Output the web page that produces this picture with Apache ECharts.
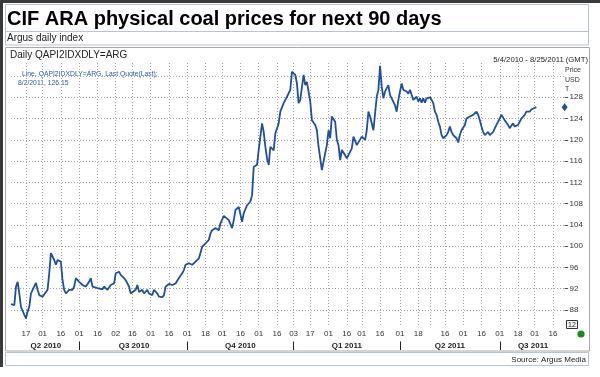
<!DOCTYPE html>
<html><head><meta charset="utf-8">
<script src="https://cdn.jsdelivr.net/npm/echarts@6/dist/echarts.min.js"></script>
<style>html,body{margin:0;padding:0;background:#fff}#c{width:600px;height:377px}</style>
</head><body><div id="c"></div>
<script>
const FONT = '"Liberation Sans", Arial, sans-serif';

// ---- axis range (trading days, UK holidays removed) ----
const startDate = '2010-05-04';
const endDate = '2011-08-25';
const holidays = ['2010-05-31','2010-08-30','2010-12-27','2010-12-28','2011-04-22','2011-04-25','2011-04-29','2011-05-02','2011-05-30'];

// ---- series: CIF ARA daily index (USD/t) ----
const dates = [
'2010-05-04','2010-05-06','2010-05-07','2010-05-10','2010-05-11','2010-05-12','2010-05-14','2010-05-17','2010-05-18','2010-05-19',
'2010-05-20','2010-05-21','2010-05-25','2010-05-26','2010-05-27','2010-06-01','2010-06-02','2010-06-04','2010-06-07','2010-06-08',
'2010-06-09','2010-06-10','2010-06-11','2010-06-14','2010-06-16','2010-06-17','2010-06-18','2010-06-21','2010-06-23','2010-06-25',
'2010-06-28','2010-06-29','2010-07-01','2010-07-05','2010-07-07','2010-07-09','2010-07-12','2010-07-13','2010-07-14','2010-07-16',
'2010-07-19','2010-07-21','2010-07-22','2010-07-26','2010-07-28','2010-07-30','2010-08-02','2010-08-04','2010-08-05','2010-08-09',
'2010-08-10','2010-08-12','2010-08-13','2010-08-16','2010-08-18','2010-08-19','2010-08-20','2010-08-24','2010-08-25','2010-08-27',
'2010-08-31','2010-09-02','2010-09-03','2010-09-07','2010-09-08','2010-09-10','2010-09-13','2010-09-14','2010-09-16','2010-09-20',
'2010-09-22','2010-09-24','2010-09-28','2010-09-29','2010-09-30','2010-10-04','2010-10-06','2010-10-08','2010-10-12','2010-10-13',
'2010-10-14','2010-10-18','2010-10-20','2010-10-21','2010-10-22','2010-10-25','2010-10-26','2010-10-28','2010-10-29','2010-11-02',
'2010-11-03','2010-11-05','2010-11-09','2010-11-10','2010-11-11','2010-11-15','2010-11-17','2010-11-18','2010-11-19','2010-11-22',
'2010-11-24','2010-11-25','2010-11-26','2010-11-30','2010-12-01','2010-12-03','2010-12-06','2010-12-07','2010-12-08','2010-12-09',
'2010-12-10','2010-12-14','2010-12-15','2010-12-17','2010-12-20','2010-12-22','2010-12-24','2010-12-30','2010-12-31','2011-01-04',
'2011-01-05','2011-01-06','2011-01-07','2011-01-11','2011-01-12','2011-01-13','2011-01-17','2011-01-18','2011-01-20','2011-01-21',
'2011-01-24','2011-01-26','2011-01-28','2011-01-31','2011-02-01','2011-02-02','2011-02-03','2011-02-07','2011-02-08','2011-02-09',
'2011-02-10','2011-02-11','2011-02-15','2011-02-16','2011-02-17','2011-02-21','2011-02-22','2011-02-24','2011-02-25','2011-03-01',
'2011-03-03','2011-03-04','2011-03-07','2011-03-08','2011-03-09','2011-03-10','2011-03-11','2011-03-14','2011-03-15','2011-03-16',
'2011-03-17','2011-03-18','2011-03-21','2011-03-23','2011-03-24','2011-03-25','2011-03-29','2011-03-30','2011-03-31','2011-04-01',
'2011-04-04','2011-04-05','2011-04-07','2011-04-08','2011-04-11','2011-04-12','2011-04-13','2011-04-14','2011-04-15','2011-04-18',
'2011-04-19','2011-04-20','2011-04-21','2011-04-26','2011-04-27','2011-05-03','2011-05-04','2011-05-05','2011-05-06','2011-05-09',
'2011-05-10','2011-05-11','2011-05-12','2011-05-13','2011-05-16','2011-05-17','2011-05-18','2011-05-19','2011-05-20','2011-05-23',
'2011-05-25','2011-05-26','2011-05-27','2011-05-31','2011-06-01','2011-06-02','2011-06-03','2011-06-07','2011-06-08','2011-06-09',
'2011-06-13','2011-06-14','2011-06-15','2011-06-16','2011-06-17','2011-06-20','2011-06-21','2011-06-22','2011-06-23','2011-06-24',
'2011-06-27','2011-06-29','2011-06-30','2011-07-04','2011-07-05','2011-07-06','2011-07-08','2011-07-11','2011-07-12','2011-07-13',
'2011-07-14','2011-07-18','2011-07-19','2011-07-20','2011-07-22','2011-07-25','2011-07-27','2011-07-28','2011-07-29','2011-08-02'
];
const prices = [
89.1,88.9,92.4,93.3,91.1,88.6,87.1,86.4,87.7,88.6,
91.1,91.8,93.1,91.8,90.8,90.5,90.2,91.8,94.9,98.7,
99.0,97.4,96.5,97.4,97.1,93.6,91.8,91.1,91.8,91.8,
92.4,94.0,93.3,92.7,92.4,93.3,94.0,92.4,92.4,92.1,
92.4,91.9,92.4,91.8,92.7,93.0,94.9,95.2,94.6,94.0,
93.6,92.4,91.1,91.4,91.8,92.7,91.4,91.8,91.1,91.8,
91.1,90.8,91.8,91.1,90.5,90.4,90.8,92.4,92.9,92.7,
93.0,94.0,94.9,95.5,96.5,96.8,96.5,97.1,97.7,98.0,
99.9,100.5,101.2,102.4,103.0,102.7,103.4,103.0,104.3,105.7,
105.5,104.9,103.4,104.9,106.8,107.4,104.6,106.2,106.1,107.7,
108.4,109.6,114.9,115.3,118.1,123.1,121.5,118.7,116.5,115.3,
118.7,118.0,121.2,123.1,125.3,126.9,128.1,129.4,132.8,132.2,
130.6,126.9,127.5,132.2,130.3,130.9,127.2,123.7,122.8,121.8,
118.7,114.3,117.5,119.0,121.8,120.3,124.4,123.4,120.0,119.0,
116.2,118.1,117.1,116.5,116.2,118.4,120.6,119.0,119.3,120.6,
120.0,121.8,125.3,124.4,124.7,121.8,121.5,128.1,129.4,133.9,
130.0,127.8,129.1,130.3,128.4,127.8,126.5,125.3,127.5,129.1,
130.6,129.4,129.1,128.7,129.4,129.1,127.5,127.8,128.1,127.2,
127.8,127.0,127.8,127.0,127.8,128.0,127.5,126.9,125.3,124.7,
123.4,122.5,120.9,120.3,120.2,120.9,121.5,122.5,121.5,120.9,
120.3,119.5,120.9,121.8,121.8,122.8,124.0,124.4,124.1,124.7,
125.3,124.7,123.7,122.5,121.5,120.9,120.6,121.5,120.9,120.6,
121.5,122.8,123.4,124.7,124.2,123.7,122.8,122.2,122.5,123.1,
122.5,122.8,123.4,124.0,124.7,125.3,125.3,125.7,125.7,126.15
];

// ---- axis ticks ----
const tickDates = ['2010-05-17','2010-06-01','2010-06-16','2010-07-01','2010-07-16','2010-08-02','2010-08-16','2010-09-01','2010-09-16','2010-10-01','2010-10-18','2010-11-01','2010-11-16','2010-12-01','2010-12-16','2011-01-03','2011-01-17','2011-02-01','2011-02-16','2011-03-01','2011-03-16','2011-04-01','2011-04-18','2011-05-03','2011-05-16','2011-06-01','2011-06-16','2011-07-01','2011-07-18','2011-08-01','2011-08-16'];
const unlabeledTicks = ['2011-05-03'];
const quarterLabels = ['Q2 2010','Q3 2010','Q4 2010','Q1 2011','Q2 2011','Q3 2011'];
const quarterStarts = ['2010-05-04','2010-07-01','2010-10-01','2011-01-03','2011-04-01','2011-07-01'];
const yGridValues = [88,92,96,100,104,108,112,116,120,124,128,132];
const yLabelValues = [88,92,96,100,104,108,112,116,120,124,128];
const yMin = 84.8, yMax = 134.45;

// ---- build category axis of trading days ----
function iso(d){ return d.toISOString().slice(0,10); }
const categories = [];
for (let d = new Date(startDate + 'T00:00:00Z'); iso(d) <= endDate; d.setUTCDate(d.getUTCDate() + 1)) {
  const wd = d.getUTCDay(), s = iso(d);
  if (wd !== 0 && wd !== 6 && holidays.indexOf(s) < 0) categories.push(s);
}
const priceByDate = {};
dates.forEach((d, i) => { priceByDate[d] = prices[i]; });
const seriesData = categories.map(d => (d in priceByDate ? priceByDate[d] : null));

const tickSet = new Set(tickDates);
const labelSet = new Set(tickDates.filter(d => unlabeledTicks.indexOf(d) < 0));
const qStartIdx = quarterStarts.map(d => categories.indexOf(d));
const qMid = qStartIdx.map((s, i) => Math.round((s + (i < qStartIdx.length - 1 ? qStartIdx[i + 1] : categories.length - 1)) / 2));
const sepSet = new Set(quarterStarts.slice(1));
const lastDate = dates[dates.length - 1], lastPrice = prices[prices.length - 1];

const chart = echarts.init(document.getElementById('c'), null, {renderer: 'canvas'});
const boxStroke = '#b7c2d3';
chart.setOption({
  animation: false,
  backgroundColor: '#ffffff',
  textStyle: {fontFamily: FONT},
  grid: {left: 11, right: 35.4, top: 63, bottom: 50, containLabel: false},
  xAxis: [{
    type: 'category', data: categories, boundaryGap: false,
    axisLine: {show: false}, axisTick: {show: false},
    axisLabel: {interval: (i, v) => labelSet.has(v), formatter: v => v.slice(8), fontSize: 8, color: '#333', margin: 3, fontFamily: FONT},
    splitLine: {show: true, interval: (i, v) => tickSet.has(v), lineStyle: {color: '#a4a4a4', width: 1, type: [1, 2]}}
  }, {
    type: 'category', data: categories, boundaryGap: false, position: 'bottom', offset: 14.5,
    axisLine: {show: false},
    axisTick: {show: true, interval: (i, v) => sepSet.has(v), length: 8.5, lineStyle: {color: '#222', width: 1}},
    axisLabel: {interval: (i) => qMid.indexOf(i) >= 0, formatter: (v, i) => quarterLabels[qMid.indexOf(i)], fontSize: 8, fontWeight: 'bold', color: '#222', margin: 0, fontFamily: FONT},
    splitLine: {show: false}
  }],
  yAxis: [{
    type: 'value', position: 'right', min: yMin, max: yMax,
    axisLine: {show: false},
    axisTick: {show: false, customValues: yGridValues},
    axisLabel: {customValues: yLabelValues, fontSize: 8, color: '#333', margin: 5, fontFamily: FONT},
    splitLine: {show: true, lineStyle: {color: '#a4a4a4', width: 1, type: [1, 2]}}
  }, {
    type: 'value', position: 'right', min: yMin, max: yMax,
    axisLine: {show: false},
    axisTick: {show: true, customValues: yLabelValues, length: 3.5, lineStyle: {color: '#555'}},
    axisLabel: {show: false},
    splitLine: {show: false}
  }],
  series: [{
    type: 'line', data: seriesData, connectNulls: true, showSymbol: false,
    lineStyle: {color: '#1f4f9e', width: 1.8}, itemStyle: {color: '#1f4f9e'},
    markPoint: {
      symbol: 'diamond', symbolSize: [6, 8], label: {show: false},
      itemStyle: {color: '#1f4f9e'},
      data: [{coord: [categories[categories.length - 1], lastPrice]}]
    }
  }],
  graphic: [
    {type: 'rect', shape: {x: 0, y: 0, width: 600, height: 3}, style: {fill: '#3a3a3a'}, silent: true},
    {type: 'rect', shape: {x: 0, y: 0, width: 3, height: 367}, style: {fill: '#3a3a3a'}, silent: true},
    {type: 'rect', shape: {x: 5.5, y: 4.5, width: 583, height: 27}, style: {fill: 'none', stroke: boxStroke, lineWidth: 1}, silent: true},
    {type: 'rect', shape: {x: 5.5, y: 31.5, width: 583, height: 13.5}, style: {fill: 'none', stroke: boxStroke, lineWidth: 1}, silent: true},
    {type: 'rect', shape: {x: 5.5, y: 47.5, width: 584, height: 303.5}, style: {fill: 'none', stroke: '#a8a8a8', lineWidth: 1}, silent: true},
    {type: 'rect', shape: {x: 5.5, y: 352.5, width: 583, height: 13}, style: {fill: 'none', stroke: boxStroke, lineWidth: 1}, silent: true},
    {type: 'text', x: 7, y: 19.5, style: {text: 'CIF ARA physical coal prices for next 90 days', font: 'bold 20px ' + FONT, fill: '#000', verticalAlign: 'middle'}},
    {type: 'text', x: 7, y: 38.5, style: {text: 'Argus daily index', font: '10px ' + FONT, fill: '#222', verticalAlign: 'middle'}},
    {type: 'text', x: 10, y: 55, style: {text: 'Daily QAPI2IDXDLY=ARG', font: '10px ' + FONT, fill: '#222', verticalAlign: 'middle'}},
    {type: 'text', x: 588, y: 59.5, style: {text: '5/4/2010 - 8/25/2011 (GMT)', font: '7.7px ' + FONT, fill: '#222', align: 'right', verticalAlign: 'middle'}},
    {type: 'text', x: 565, y: 70, style: {text: 'Price', font: '7px ' + FONT, fill: '#333', verticalAlign: 'middle'}},
    {type: 'text', x: 565, y: 80, style: {text: 'USD', font: '7px ' + FONT, fill: '#333', verticalAlign: 'middle'}},
    {type: 'text', x: 565, y: 89, style: {text: 'T', font: '7px ' + FONT, fill: '#333', verticalAlign: 'middle'}},
    {type: 'text', x: 22, y: 74.5, style: {text: 'Line, QAPI2IDXDLY=ARG, Last Quote(Last);', font: '6.8px ' + FONT, fill: '#2b5aa6', verticalAlign: 'middle'}},
    {type: 'text', x: 18, y: 83.5, style: {text: lastDate.slice(5,7).replace(/^0/,'') + '/' + lastDate.slice(8).replace(/^0/,'') + '/' + lastDate.slice(0,4) + ', ' + lastPrice.toFixed(2), font: '6.8px ' + FONT, fill: '#2b5aa6', verticalAlign: 'middle'}},
    {type: 'rect', shape: {x: 566.5, y: 320.5, width: 11, height: 8}, style: {fill: '#f4f4f4', stroke: '#333', lineWidth: 1}, silent: true},
    {type: 'text', x: 572, y: 324.7, style: {text: '12', font: '7px ' + FONT, fill: '#222', align: 'center', verticalAlign: 'middle'}},
    {type: 'circle', shape: {cx: 581, cy: 334, r: 3.6}, style: {fill: '#1a8a1a'}, silent: true},
    {type: 'text', x: 586, y: 359.5, style: {text: 'Source: Argus Media', font: '8px ' + FONT, fill: '#222', align: 'right', verticalAlign: 'middle'}}
  ]
});
</script>
</body></html>
